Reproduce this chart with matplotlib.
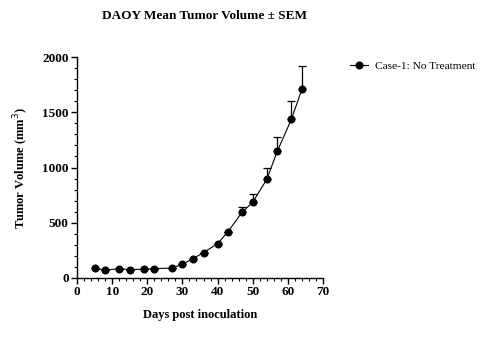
import matplotlib
matplotlib.use("Agg")
import matplotlib.pyplot as plt
from matplotlib.ticker import MultipleLocator
from matplotlib.lines import Line2D

plt.rcParams['font.family'] = ['Liberation Serif', 'DejaVu Serif']

days = [5, 8, 12, 15, 19, 22, 27, 30, 33, 36, 40, 43, 47, 50, 54, 57, 61, 64]
mean_volume = [90, 70, 85, 75, 80, 85, 90, 125, 175, 230, 310, 420, 597, 685, 893, 1147, 1436, 1708]
sem = [0, 0, 0, 0, 0, 0, 0, 0, 0, 0, 0, 0, 43, 72, 100, 126, 163, 210]
series_label = "Case-1: No Treatment"

fig = plt.figure(figsize=(4.84, 3.46), dpi=100)
ax = fig.add_axes([77/484, 1-278/346, 246/484, 221/346])

ax.errorbar(days, mean_volume, yerr=[[0]*len(sem), sem], color='black',
            marker='o', markersize=4.8, linewidth=0.8, elinewidth=0.9,
            capsize=3, capthick=0.9)

ax.set_xlim(0, 70)
ax.set_ylim(0, 2000)
ax.xaxis.set_major_locator(MultipleLocator(10))
ax.xaxis.set_minor_locator(MultipleLocator(2))
ax.yaxis.set_major_locator(MultipleLocator(500))
ax.yaxis.set_minor_locator(MultipleLocator(100))
for s in ('top', 'right'):
    ax.spines[s].set_visible(False)
for s in ('left', 'bottom'):
    ax.spines[s].set_linewidth(1.0)
ax.tick_params(which='major', length=4, width=1.0, direction='out', labelsize=9.5, pad=2)
ax.tick_params(which='minor', length=2.5, width=0.8, direction='out')
for lbl in ax.get_xticklabels() + ax.get_yticklabels():
    lbl.set_fontweight('bold')

ax.set_xlabel("Days post inoculation", fontsize=9, fontweight='bold', labelpad=8)
ax.set_ylabel("Tumor Volume (mm$^3$)", fontsize=9, fontweight='bold', labelpad=8)

fig.text(205/484, 1-16/346, "DAOY Mean Tumor Volume ± SEM", ha='center', va='center',
         fontsize=9.5, fontweight='bold')

handle = Line2D([], [], color='black', marker='o', markersize=4.8, linewidth=0.8)
fig.legend([handle], [series_label], loc='center left',
           bbox_to_anchor=(340/484, 1-66/346), frameon=False,
           fontsize=8.2, handlelength=1.6, handletextpad=0.6)

fig.savefig("out.png", dpi=100)
